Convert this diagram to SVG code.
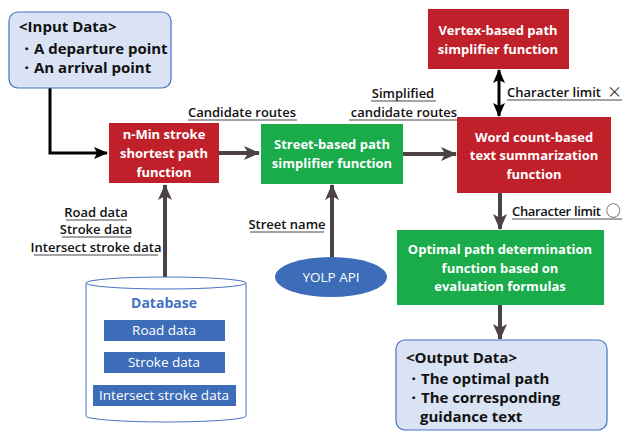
<svg xmlns="http://www.w3.org/2000/svg" width="625" height="432" viewBox="0 0 625 432">
  <defs>
    <style>
      .t { font-family: "Open Sans", "Noto Sans", sans-serif; }
      .data { fill: #dae3f3; stroke: #4472c4; stroke-width: 1.2; }
      .dtxt { font-size: 15px; font-weight: bold; fill: #111; }
      .red { fill: #c0202a; }
      .green { fill: #1aab4b; }
      .wt { font-size: 13px; font-weight: bold; fill: #fff; text-anchor: middle; }
      .lbl { font-size: 13px; fill: #111; font-weight: 600; }
      .sym { font-family: "Noto Sans CJK JP", sans-serif; font-size: 15px; font-weight: normal; fill: #333; }
      .ul { stroke: #333; stroke-width: 0.9; }
      .gray { stroke: #4b4343; stroke-width: 4; fill: none; }
      .bar { fill: #3d6cb9; }
      .bt { font-size: 13.5px; fill: #fff; text-anchor: middle; }
    </style>
    <marker id="ag" markerUnits="userSpaceOnUse" markerWidth="16" markerHeight="16" viewBox="0 0 16 16" refX="15" refY="8" orient="auto">
      <path d="M0,1 L16,8 L0,15 L4,8 z" fill="#4b4343"/>
    </marker>
    <marker id="ab" markerUnits="userSpaceOnUse" markerWidth="14" markerHeight="14" viewBox="0 0 14 14" refX="13" refY="7" orient="auto-start-reverse">
      <path d="M0,1 L14,7 L0,13 L3,7 z" fill="#000"/>
    </marker>
  </defs>

  <!-- connectors -->
  <g id="connectors">
    <polyline points="50,88 50,153 107,153" fill="none" stroke="#000" stroke-width="3" marker-end="url(#ab)"/>
    <line x1="219" y1="153" x2="259" y2="153" class="gray" marker-end="url(#ag)"/>
    <line x1="403" y1="154" x2="456" y2="154" class="gray" marker-end="url(#ag)"/>
    <line x1="499" y1="70" x2="499" y2="116" stroke="#000" stroke-width="3" marker-start="url(#ab)" marker-end="url(#ab)"/>
    <line x1="500" y1="193" x2="500" y2="229" class="gray" marker-end="url(#ag)"/>
    <line x1="500" y1="305" x2="500" y2="339" class="gray" marker-end="url(#ag)"/>
    <line x1="332" y1="258" x2="332" y2="185" class="gray" marker-end="url(#ag)"/>
    <line x1="165" y1="277" x2="165" y2="185" class="gray" marker-end="url(#ag)"/>

    <!-- connector labels -->
    <g class="t lbl">
      <text x="242" y="117" text-anchor="middle">Candidate routes</text>
      <line x1="188" y1="120" x2="297" y2="120" class="ul"/>
      <text x="403" y="98" text-anchor="middle">Simplified</text>
      <line x1="371" y1="101" x2="436" y2="101" class="ul"/>
      <text x="404" y="117" text-anchor="middle">candidate routes</text>
      <line x1="349" y1="120" x2="458" y2="120" class="ul"/>
      <text x="507" y="97"><tspan textLength="94" lengthAdjust="spacing">Character limit</tspan><tspan class="sym" dx="6">×</tspan></text>
      <line x1="507" y1="100" x2="622" y2="100" class="ul"/>
      <text x="512" y="216"><tspan textLength="89" lengthAdjust="spacing">Character limit</tspan><tspan class="sym" dx="5">○</tspan></text>
      <line x1="512" y1="219" x2="622" y2="219" class="ul"/>
      <text x="287" y="229" text-anchor="middle">Street name</text>
      <line x1="250" y1="232" x2="324" y2="232" class="ul"/>
      <text x="96" y="217" text-anchor="middle">Road data</text>
      <line x1="66" y1="220" x2="127" y2="220" class="ul"/>
      <text x="96" y="234" text-anchor="middle">Stroke data</text>
      <line x1="62" y1="237" x2="131" y2="237" class="ul"/>
      <text x="96" y="252" text-anchor="middle">Intersect stroke data</text>
      <line x1="34" y1="255" x2="158" y2="255" class="ul"/>
    </g>
  </g>

  <!-- input data -->
  <g id="input">
    <rect x="9" y="12" width="162" height="76" rx="9" class="data"/>
    <g class="t dtxt">
      <text x="19" y="32">&lt;Input Data&gt;</text>
      <text x="19" y="54">・A departure point</text>
      <text x="19" y="73">・An arrival point</text>
    </g>
  </g>

  <!-- n-Min stroke shortest path -->
  <g id="nmin">
    <rect x="109" y="123" width="110" height="60" class="red"/>
    <g class="t wt">
      <text x="164" y="139">n-Min stroke</text>
      <text x="164" y="158">shortest path</text>
      <text x="164" y="177">function</text>
    </g>
  </g>

  <!-- street-based simplifier -->
  <g id="street">
    <rect x="261" y="124" width="142" height="60" class="green"/>
    <g class="t wt">
      <text x="332" y="149">Street-based path</text>
      <text x="332" y="168">simplifier function</text>
    </g>
  </g>

  <!-- vertex-based simplifier -->
  <g id="vertex">
    <rect x="428" y="9" width="141" height="60" class="red"/>
    <g class="t wt">
      <text x="498" y="35">Vertex-based path</text>
      <text x="498" y="54">simplifier function</text>
    </g>
  </g>

  <!-- word count summarization -->
  <g id="summary">
    <rect x="457" y="117" width="154" height="76" class="red"/>
    <g class="t wt">
      <text x="534" y="142">Word count-based</text>
      <text x="534" y="160">text summarization</text>
      <text x="534" y="179">function</text>
    </g>
  </g>

  <!-- optimal path determination -->
  <g id="optimal">
    <rect x="397" y="230" width="207" height="75" class="green"/>
    <g class="t wt">
      <text x="500" y="254">Optimal path determination</text>
      <text x="500" y="273">function based on</text>
      <text x="500" y="291">evaluation formulas</text>
    </g>
  </g>

  <!-- YOLP API -->
  <g id="yolp">
    <ellipse cx="331" cy="277" rx="56" ry="20" fill="#3d6cb9"/>
    <text x="331" y="282" class="t bt">YOLP API</text>
  </g>

  <!-- database -->
  <g id="database">
    <path d="M86,283 L86,416 A80,6 0 0 0 246,416 L246,283" fill="#fff" stroke="#4472c4" stroke-width="1"/>
    <ellipse cx="166" cy="283" rx="80" ry="6" fill="#fff" stroke="#4472c4" stroke-width="1"/>
    <text x="164" y="308" class="t" font-size="14" font-weight="bold" fill="#4472c4" text-anchor="middle">Database</text>
    <rect x="104" y="320" width="121" height="21" class="bar"/>
    <text x="164" y="335" class="t bt">Road data</text>
    <rect x="104" y="352" width="121" height="21" class="bar"/>
    <text x="164" y="367" class="t bt">Stroke data</text>
    <rect x="93" y="385" width="143" height="21" class="bar"/>
    <text x="164" y="400" class="t bt">Intersect stroke data</text>
  </g>

  <!-- output data -->
  <g id="output">
    <rect x="396" y="340" width="211" height="90" rx="9" class="data"/>
    <g class="t dtxt">
      <text x="406" y="363">&lt;Output Data&gt;</text>
      <text x="406" y="384">・The optimal path</text>
      <text x="406" y="403">・The corresponding</text>
      <text x="420" y="422">guidance text</text>
    </g>
  </g>
</svg>
